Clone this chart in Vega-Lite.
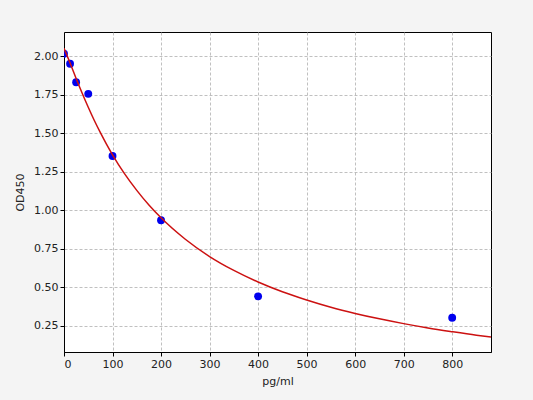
{
  "$schema": "https://vega.github.io/schema/vega-lite/v6.json",
  "width": 427,
  "height": 320,
  "autosize": {"type": "none"},
  "padding": {"left": 64, "top": 32, "right": 42, "bottom": 48},
  "background": "#f4f4f4",
  "config": {
    "view": {"stroke": "#000000", "strokeWidth": 1, "fill": "#ffffff"},
    "axis": {
      "labelFont": "DejaVu Sans", "labelFontSize": 11, "labelColor": "#222222",
      "titleFont": "DejaVu Sans", "titleFontSize": 11, "titleFontWeight": "normal", "titleColor": "#222222",
      "domainColor": "#000000", "tickColor": "#000000", "tickSize": 4,
      "gridColor": "#b0b0b0", "gridDash": [3, 2], "gridWidth": 0.8
    }
  },
  "datasets": {
    "points": [
      {"conc": 0, "od": 2.015},
      {"conc": 12.5, "od": 1.95},
      {"conc": 25, "od": 1.83},
      {"conc": 50, "od": 1.755},
      {"conc": 100, "od": 1.352},
      {"conc": 200, "od": 0.935},
      {"conc": 400, "od": 0.442},
      {"conc": 800, "od": 0.303}
    ],
    "curve": [
      {"conc": 0, "od": 2.05},
      {"conc": 12.5, "od": 1.955},
      {"conc": 25, "od": 1.855},
      {"conc": 37.5, "od": 1.759},
      {"conc": 50, "od": 1.668},
      {"conc": 62.5, "od": 1.582},
      {"conc": 75, "od": 1.503},
      {"conc": 87.5, "od": 1.429},
      {"conc": 100, "od": 1.36},
      {"conc": 125, "od": 1.236},
      {"conc": 150, "od": 1.129},
      {"conc": 175, "od": 1.034},
      {"conc": 200, "od": 0.951},
      {"conc": 250, "od": 0.812},
      {"conc": 300, "od": 0.70},
      {"conc": 350, "od": 0.61},
      {"conc": 400, "od": 0.535},
      {"conc": 450, "od": 0.4715},
      {"conc": 500, "od": 0.418},
      {"conc": 550, "od": 0.371},
      {"conc": 600, "od": 0.331},
      {"conc": 650, "od": 0.296},
      {"conc": 700, "od": 0.265},
      {"conc": 750, "od": 0.237},
      {"conc": 800, "od": 0.2127},
      {"conc": 850, "od": 0.19},
      {"conc": 880, "od": 0.178}
    ]
  },
  "encoding": {
    "x": {
      "field": "conc", "type": "quantitative", "title": "pg/ml",
      "scale": {"domain": [0, 880], "nice": false, "zero": false},
      "axis": {"values": [0, 100, 200, 300, 400, 500, 600, 700, 800], "titlePadding": 6}
    },
    "y": {
      "field": "od", "type": "quantitative", "title": "OD450",
      "scale": {"domain": [0.081, 2.156], "nice": false, "zero": false},
      "axis": {"values": [0.25, 0.5, 0.75, 1.0, 1.25, 1.5, 1.75, 2.0], "format": ".2f", "titlePadding": 8}
    }
  },
  "layer": [
    {
      "data": {"name": "points"},
      "mark": {"type": "circle", "size": 62, "opacity": 1, "color": "#0000ee", "clip": true}
    },
    {
      "data": {"name": "curve"},
      "mark": {"type": "line", "color": "#cc1111", "strokeWidth": 1.5, "interpolate": "monotone", "clip": true}
    }
  ]
}
